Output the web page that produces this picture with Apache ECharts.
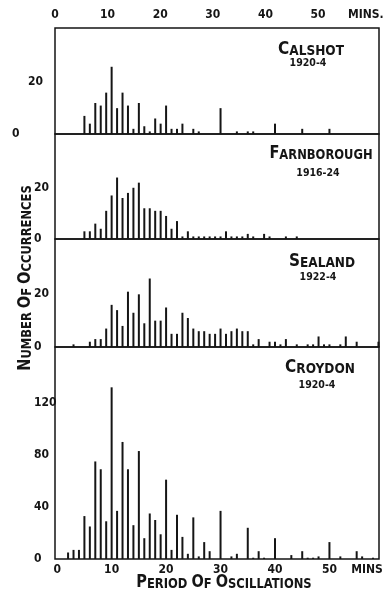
<!DOCTYPE html>
<html>
<head>
<meta charset="utf-8">
<script src="https://cdn.jsdelivr.net/npm/echarts@6/dist/echarts.min.js"></script>
<style>
html,body{margin:0;padding:0;background:#fff}
#chart{width:383px;height:593px}
</style>
</head>
<body>
<div id="chart"></div>
<script>
// period of oscillation (minutes) and number of occurrences, read per station
var calshotMin = [5,6,7,8,9,10,11,12,13,14,15,16,17,18,19,20,21,22,23,25,26,30,33,35,36,40,45,50];
var calshotCnt = [7,4,12,11,16,26,10,16,11,2,12,3,1,6,4,11,2,2,4,2,1,10,1,1,1,4,2,2];

var farnMin = [5,6,7,8,9,10,11,12,13,14,15,16,17,18,19,20,21,22,23,24,25,26,27,28,29,30,31,32,33,34,35,36,38,39,42,44];
var farnCnt = [3,3,6,4,11,17,24,16,18,20,22,12,12,11,11,9,4,7,1,3,1,1,1,1,1,1,3,1,1,1,2,1,2,1,1,1];

var sealandMin = [3,6,7,8,9,10,11,12,13,14,15,16,17,18,19,20,21,22,23,24,25,26,27,28,29,30,31,32,33,34,35,36,37,39,40,41,42,44,46,47,48,49,50,52,53,55,59];
var sealandCnt = [1,2,3,3,7,16,14,8,21,13,20,9,26,10,10,15,5,5,13,11,7,6,6,5,5,7,5,6,7,6,6,1,3,2,2,1,3,1,1,1,4,1,1,1,4,2,2];

var croydonMin = [2,3,4,5,6,7,8,9,10,11,12,13,14,15,16,17,18,19,20,21,22,23,24,25,26,27,28,30,32,33,35,36,37,38,40,43,45,46,47,48,50,52,55,56,58];
var croydonCnt = [5,7,7,33,25,75,69,29,132,37,90,69,26,83,16,35,30,19,61,7,34,17,4,32,2,13,6,37,2,4,24,1,6,1,16,3,6,1,1,2,13,2,6,2,1];

var stations = ['CALSHOT', 'FARNBOROUGH', 'SEALAND', 'CROYDON'];
var years = ['1920-4', '1916-24', '1922-4', '1920-4'];

var topTicks = [0,10,20,30,40,50,59.1];      // last slot carries "MINS."
var bottomTicks = [0,10,20,30,40,50,56.9];   // last slot carries "MINS"
var smallTicks = [0,20];
var croydonTicks = [0,40,80,120];

var chart = echarts.init(document.getElementById('chart'));
var ink = '#151515';
var FONT = 'DejaVu Sans Condensed';

function pairs(xs, ys){
    var out = [];
    for (var i = 0; i < xs.length; i++) out.push([xs[i], ys[i]]);
    return out;
}

var panels = [
    {top: 28, height: 106, max: 41, ticks: smallTicks, data: pairs(calshotMin, calshotCnt)},
    {top: 134, height: 105, max: 41, ticks: smallTicks, data: pairs(farnMin, farnCnt)},
    {top: 239, height: 108, max: 41, ticks: smallTicks, data: pairs(sealandMin, sealandCnt)},
    {top: 347, height: 212, max: 163, ticks: croydonTicks, data: pairs(croydonMin, croydonCnt)}
];

var grids = [], xAxes = [], yAxes = [], series = [];
panels.forEach(function(p, i){
    grids.push({left: 55, width: 324, top: p.top, height: p.height, outerBoundsMode: 'none',
        show: true, borderColor: ink, borderWidth: 1.5, backgroundColor: 'transparent'});
    xAxes.push({
        type: 'value', gridIndex: i, min: -0.4, max: 59.1,
        axisLine: {show: false}, axisTick: {show: false}, splitLine: {show: false},
        axisLabel: i === 3 ? {
            show: true, customValues: bottomTicks, margin: 5,
            color: ink, fontFamily: FONT, fontWeight: 'bold', fontSize: 12,
            formatter: function(v){ return v > 55 ? 'MINS' : v; }
        } : {show: false}
    });
    yAxes.push({
        type: 'value', gridIndex: i, min: 0, max: p.max,
        axisLine: {show: false}, axisTick: {show: false}, splitLine: {show: false},
        axisLabel: {
            customValues: p.ticks, align: 'left', margin: i === 0 ? 43 : 21,
            color: ink, fontFamily: FONT, fontWeight: 'bold', fontSize: 12,
            formatter: i === 0 ? function(v){ return v === 0 ? '0' : '{p|' + v + '}'; } : '{value}',
            rich: {p: {padding: [0, 0, 0, 16], color: ink, fontFamily: FONT, fontWeight: 'bold', fontSize: 12}}
        }
    });
    series.push({
        type: 'bar', xAxisIndex: i, yAxisIndex: i, data: p.data,
        barWidth: 2, silent: true, itemStyle: {color: ink}
    });
});

// scale printed along the top of the first panel
xAxes.push({
    type: 'value', gridIndex: 0, position: 'top', min: 0, max: 61.6,
    axisLine: {show: false}, axisTick: {show: false}, splitLine: {show: false},
    axisLabel: {
        customValues: topTicks, margin: 7,
        color: ink, fontFamily: FONT, fontWeight: 'bold', fontSize: 12,
        formatter: function(v){ return v > 55 ? 'MINS.' : v; }
    }
});

var rich = {
    b: {fontFamily: FONT, fontWeight: 'bold', fontSize: 17, color: ink, verticalAlign: 'bottom'},
    s: {fontFamily: FONT, fontWeight: 'bold', fontSize: 13.5, color: ink, verticalAlign: 'bottom'}
};
function smallCaps(word){
    return word.split(' ').map(function(w){
        return '{b|' + w.charAt(0) + '}{s|' + w.slice(1) + '}';
    }).join('{s| }');
}
function label(text, x, y, extra){
    var el = {type: 'text', x: x, y: y, silent: true,
        style: {text: text, rich: rich, fill: ink, align: 'center', verticalAlign: 'middle',
                textAlign: 'center', textVerticalAlign: 'middle'}};
    for (var k in extra) el[k] = extra[k];
    return el;
}
function yearLabel(text, x, y){
    return {type: 'text', x: x, y: y, silent: true,
        style: {text: text, font: 'bold 10.5px "' + FONT + '"', fill: ink,
                align: 'center', verticalAlign: 'middle', textAlign: 'center', textVerticalAlign: 'middle'}};
}

var nameX = [311, 321, 322, 320], nameY = [50, 154, 262, 368];
var yearX = [308, 318, 318, 317], yearY = [63, 173.5, 277, 385.5];
var graphics = [];
stations.forEach(function(s, i){
    graphics.push(label(smallCaps(s), nameX[i], nameY[i], i === 1 ? {scaleX: 0.95} : {}));
    graphics.push(yearLabel(years[i], yearX[i], yearY[i]));
});
graphics.push(label(smallCaps('PERIOD OF OSCILLATIONS'), 224, 583, {scaleX: 0.95}));
graphics.push(label(smallCaps('NUMBER OF OCCURRENCES'), 26, 278, {rotation: Math.PI / 2, scaleX: 0.95}));

var option = {
    animation: false,
    backgroundColor: '#fff',
    grid: grids,
    xAxis: xAxes,
    yAxis: yAxes,
    series: series,
    graphic: graphics
};
chart.setOption(option);
</script>
</body>
</html>
